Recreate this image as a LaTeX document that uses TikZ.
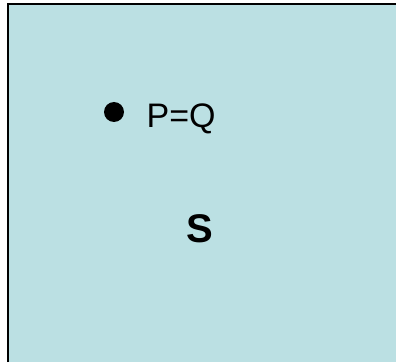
\documentclass[tikz,border=0pt]{standalone}
\usepackage{fontspec}
\setmainfont{Liberation Sans}
\usepackage{tikz}
\definecolor{paleteal}{RGB}{187,224,227}

\begin{document}
\begin{tikzpicture}[x=1pt, y=1pt,
    edgeline/.style={draw=black, line width=2pt},
    point/.style={circle, fill=black, inner sep=0pt, minimum size=20pt},
    plabel/.style={anchor=base west, inner sep=0pt, font=\fontsize{34}{40}\selectfont},
    setlabel/.style={anchor=base, inner sep=0pt, font=\fontsize{40}{48}\selectfont\bfseries}
]
\useasboundingbox (0, 0) rectangle (396, 362);

% Region (runs off the right and bottom edges)
\fill[paleteal] (8, 0) rectangle (396, 358);
\draw[edgeline] (8, 0) -- (8, 358) -- (396, 358);

% Nodes
\node[point] (pq) at (114, 250) {};
\node[plabel] (pqlabel) at (146.5, 234) {P=Q};
\node[setlabel] (s) at (200, 120) {S};

\end{tikzpicture}
\end{document}
